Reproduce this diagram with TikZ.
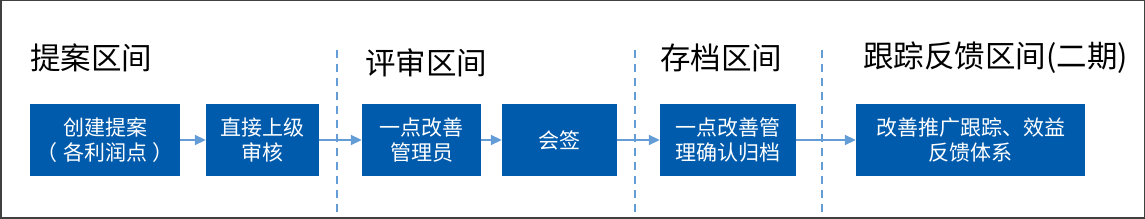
\documentclass[tikz,border=0pt]{standalone}
\usepackage{fontspec}
\newfontfamily\cjk{Noto Sans CJK SC}
\usetikzlibrary{arrows.meta}
\usepackage{xcolor}
\definecolor{boxblue}{RGB}{0,91,172}
\definecolor{linkblue}{RGB}{100,156,214}
\definecolor{framegray}{RGB}{64,64,64}

\begin{document}
\begin{tikzpicture}[x=1pt,y=-1pt,>={Triangle[length=11pt,width=10pt]},
  stage/.style={fill=boxblue,text=white,minimum height=72pt,inner sep=0pt,align=center,font=\cjk\fontsize{21}{25}\selectfont},
  zone/.style={anchor=west,inner sep=0pt,font=\cjk\fontsize{30.5}{34}\selectfont},
  link/.style={->,draw=linkblue,fill=linkblue,line width=1.8pt},
  divider/.style={draw=linkblue,line width=1.8pt,dash pattern=on 8pt off 6pt}]
\useasboundingbox (0,0) rectangle (1145,219);
\draw[framegray,line width=1.5pt] (0.75,0.75) rectangle (1144.25,218);
% zone titles
\node[zone] (zpropose) at (30,58) {提案区间};
\node[zone] (zreview) at (365,63) {评审区间};
\node[zone] (zarchive) at (660,58) {存档区间};
\node[zone] (ztrack) at (863,58) {跟踪反馈区间(二期)};
% zone dividers
\draw[divider] (337,50) -- (337,214);
\draw[divider] (635,50) -- (635,214);
\draw[divider] (822,50) -- (822,214);
% stages
\node[stage,minimum width=150pt] (create) at (105,140) {创建提案\\（\hspace{0.25em}各利润点\hspace{0.25em}）};
\node[stage,minimum width=113pt] (boss) at (262.5,140) {直接上级\\审核};
\node[stage,minimum width=119pt] (admin) at (421.5,140) {一点改善\\管理员};
\node[stage,minimum width=115pt] (sign) at (559.5,140) {会签};
\node[stage,minimum width=136pt] (file) at (728,140) {一点改善管\\理确认归档};
\node[stage,minimum width=229pt] (track) at (970.5,140) {改善推广跟踪、效益\\反馈体系};
% flow
\draw[link] (create) -- (boss);
\draw[link] (boss) -- (admin);
\draw[link] (admin) -- (sign);
\draw[link] (sign) -- (file);
\draw[link] (file) -- (track);
\end{tikzpicture}
\end{document}
